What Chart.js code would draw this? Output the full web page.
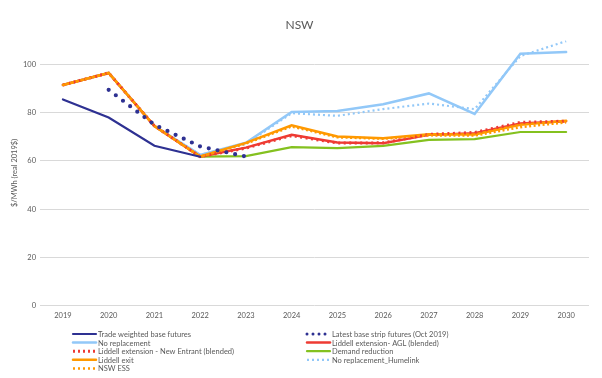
<!DOCTYPE html>
<html><head><meta charset="utf-8">
<script src="https://cdn.jsdelivr.net/npm/chart.js@4/dist/chart.umd.min.js"></script>
<style>html,body{margin:0;padding:0;background:#fff;}canvas{display:block;}</style>
</head><body>
<canvas id="c" width="602" height="378"></canvas>
<script>
const years = ['2019','2020','2021','2022','2023','2024','2025','2026','2027','2028','2029','2030'];
const tradeWeighted = [85.5, 78, 66.3, 61.7, null, null, null, null, null, null, null, null];
const latestStrip = [null, 89.5, 75, 66, 61.8, null, null, null, null, null, null, null];
const noReplacement = [91.5, 96.5, 74.5, 62.5, 67.5, 80.3, 80.7, 83.5, 88, 79.5, 104.5, 105.2];
const liddellAGL = [91.5, 96.5, 74.5, 61.8, 65.5, 70.8, 67.6, 67.3, 70.8, 71.5, 75.5, 76.5];
const liddellNewEntrant = [91.5, 96.5, 74.5, 61.8, 65.3, 70.5, 67.4, 67.5, 71, 71.8, 76, 76.5];
const demandReduction = [null, null, null, 61.8, 62, 65.7, 65.3, 66.2, 68.7, 69, 72, 72];
const liddellExit = [91.5, 96.5, 74.5, 61.8, 67.5, 74.8, 70.1, 69.4, 71.1, 71, 75, 76.7];
const humelink = [91.5, 96.5, 74.5, 62.5, 67, 79.8, 78.7, 81.5, 83.8, 81.5, 103.5, 109.7];
const nswESS = [91.5, 96.5, 74.5, 61.8, 67.2, 74.3, 69.8, 69.2, 70.6, 70.5, 74, 76];
const yTicks = [0, 20, 40, 60, 80, 100];

const FONT = 'Lato, "Open Sans", sans-serif';
const TXT = '#595959';

function ds(label, data, color, width, dash, cap, order) {
  return { label, data, borderColor: color, backgroundColor: color, borderWidth: width,
    borderDash: dash || [], borderCapStyle: cap || 'butt', pointRadius: 0, tension: 0,
    fill: false, spanGaps: false, order };
}

const datasets = [
  ds('Trade weighted base futures', tradeWeighted, '#2E3192', 2.2, null, 'round', 0),
  ds('Latest base strip futures (Oct 2019)', latestStrip, '#2E3192', 4.2, [0, 9], 'round', 1),
  ds('No replacement', noReplacement, '#92C8F8', 2.5, null, 'round', 8),
  ds('Liddell extension- AGL (blended)', liddellAGL, '#EE3B33', 2.5, null, 'round', 6),
  ds('Liddell extension - New Entrant (blended)', liddellNewEntrant, '#EE3B33', 3, [2, 3.5], 'butt', 3),
  ds('Demand reduction', demandReduction, '#84C11F', 2.2, null, 'round', 7),
  ds('Liddell exit', liddellExit, '#FF9900', 2.5, null, 'round', 4),
  ds('No replacement_Humelink', humelink, '#92C8F8', 2.2, [2, 3], 'butt', 5),
  ds('NSW ESS', nswESS, '#FF9900', 2.5, [2, 2.5], 'butt', 2),
];

const legendPlugin = {
  id: 'gridLegend',
  afterDraw(chart) {
    const ctx = chart.ctx;
    const cols = [72, 306];
    const y0 = 334, dy = 8.6;
    ctx.save();
    chart.data.datasets.forEach((d, i) => {
      const col = i % 2, row = Math.floor(i / 2);
      const x = cols[col], y = y0 + row * dy;
      ctx.beginPath();
      ctx.strokeStyle = d.borderColor;
      ctx.lineWidth = Math.min(d.borderWidth, 3);
      ctx.lineCap = d.borderCapStyle;
      ctx.setLineDash(d.borderDash.length ? (d.borderDash[0] === 0 ? [0, 6] : [2, 3]) : []);
      ctx.moveTo(x + 1, y);
      ctx.lineTo(x + 24, y);
      ctx.stroke();
      ctx.setLineDash([]);
      ctx.fillStyle = TXT;
      ctx.font = '7.5px ' + FONT;
      ctx.textBaseline = 'middle';
      ctx.textAlign = 'left';
      ctx.fillText(d.label, x + 26, y + 0.5);
    });
    ctx.restore();
  }
};

new Chart(document.getElementById('c'), {
  type: 'line',
  data: { labels: years, datasets },
  plugins: [legendPlugin],
  options: {
    responsive: false,
    animation: false,
    layout: { padding: { left: 10, right: 13, top: 0, bottom: 52.5 } },
    plugins: {
      legend: { display: false },
      tooltip: { enabled: false },
      title: { display: true, text: 'NSW', color: TXT, font: { family: FONT, size: 12, weight: 'normal' }, padding: { top: 18, bottom: 8 } }
    },
    scales: {
      x: {
        offset: true,
        grid: { display: false, drawTicks: false, tickLength: 0 },
        border: { display: false },
        ticks: { color: TXT, font: { family: FONT, size: 7.5 }, padding: 5.5, maxRotation: 0 }
      },
      y: {
        min: 0, max: 110,
        afterBuildTicks(axis) { axis.ticks = yTicks.map(v => ({ value: v })); },
        grid: { color: '#D9D9D9', lineWidth: 1, drawTicks: false },
        border: { display: false },
        ticks: { color: TXT, font: { family: FONT, size: 7.5 }, padding: 4 },
        title: { display: true, text: '$/MWh (real 2019$)', color: TXT, font: { family: FONT, size: 7.5 }, padding: { top: 0, bottom: 0 } }
      }
    }
  }
});
</script>
</body></html>
